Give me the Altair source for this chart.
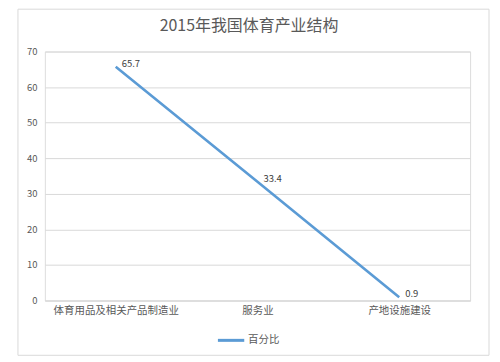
import altair as alt
import pandas as pd

categories = ["体育用品及相关产品制造业", "服务业", "产地设施建设"]
values = [65.7, 33.4, 0.9]
series_name = "百分比"
title_text = "2015年我国体育产业结构"
y_ticks = [0, 10, 20, 30, 40, 50, 60, 70]

FONT = "Noto Sans CJK SC"
GRAY = "#595959"
LINE = "#5B9BD5"

df = pd.DataFrame({"cat": categories, "val": values, "series": [series_name] * len(values)})
title_df = pd.DataFrame({"t": [title_text]})

x_enc = alt.X("cat:N", sort=categories, scale=alt.Scale(padding=0.5),
              axis=alt.Axis(title=None, labelAngle=0, ticks=False, domain=True,
                            domainColor="#d9d9d9", labelColor=GRAY, labelFontSize=10.5,
                            labelFont=FONT, labelPadding=5, grid=False))
y_enc = alt.Y("val:Q", scale=alt.Scale(domain=[0, 70]),
              axis=alt.Axis(title=None, values=y_ticks, ticks=False, domain=False,
                            gridColor="#d9d9d9", labelColor=GRAY, labelFontSize=9.5,
                            labelFont=FONT, labelPadding=8, labelOverlap=False))

frame = alt.Chart(title_df).mark_rect(fill=None, stroke="#d9d9d9", strokeWidth=1, clip=False).encode(
    x=alt.value(-27), x2=alt.value(446), y=alt.value(-42.5), y2=alt.value(305)
)

title = alt.Chart(title_df).mark_text(font=FONT, fontSize=16, color=GRAY, align="center",
                                      baseline="middle", clip=False).encode(
    x=alt.value(205), y=alt.value(-26), text="t:N"
)

line = alt.Chart(df).mark_line(strokeWidth=2.6, clip=False).encode(
    x=x_enc, y=y_enc,
    color=alt.Color("series:N", scale=alt.Scale(range=[LINE]),
                    legend=alt.Legend(title=None, orient="none", legendX=172, legendY=275,
                                      symbolType="stroke", symbolSize=700, symbolStrokeWidth=3,
                                      labelColor=GRAY, labelFont=FONT, labelFontSize=10.5,
                                      labelOffset=2))
)

labels = alt.Chart(df).mark_text(align="left", baseline="middle", dx=6, dy=-3,
                                 font=FONT, fontSize=9.5, color="#404040").encode(
    x=x_enc, y=y_enc, text=alt.Text("val:Q", format=".1f")
)

chart = alt.layer(frame, title, line, labels).properties(
    width=427, height=250,
    autosize=alt.AutoSizeParams(type="none"),
    padding={"left": 37, "top": 43, "right": 22, "bottom": 57},
).configure_view(stroke=None).configure(background="white")

chart.save("out.html", embed_options={"renderer": "svg", "actions": False})
